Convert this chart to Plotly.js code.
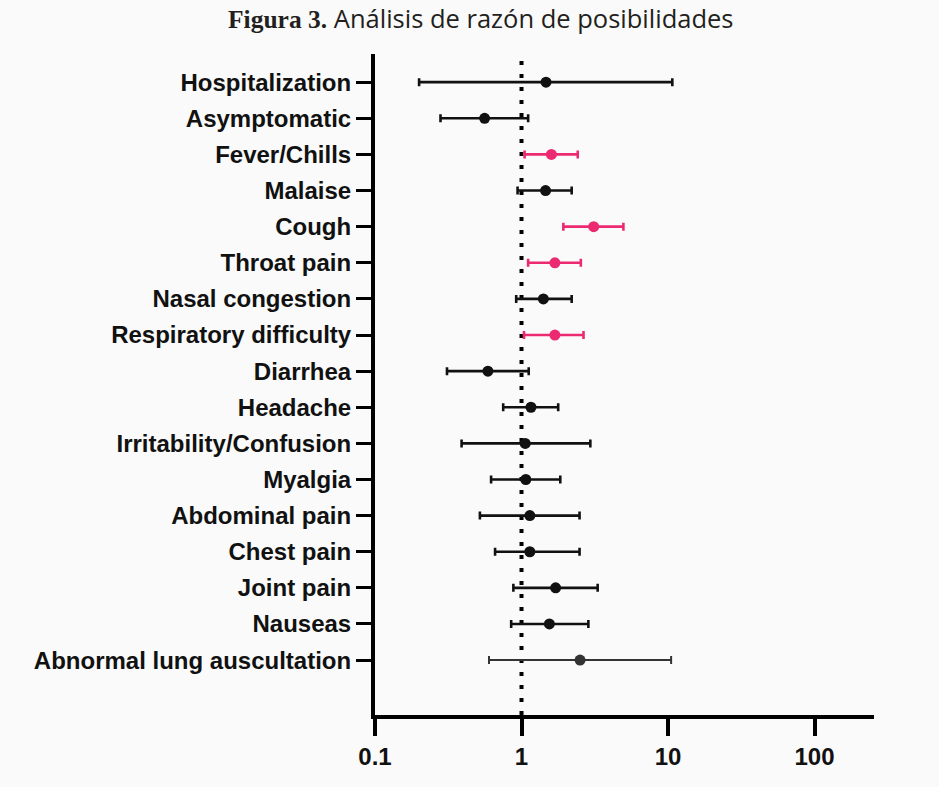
<!DOCTYPE html>
<html>
<head>
<meta charset="utf-8">
<script src="https://cdn.plot.ly/plotly-3.0.1.min.js"></script>
<style>html,body{margin:0;padding:0;background:#fafafa;}#chart{width:939px;height:787px;}</style>
</head>
<body>
<div id="chart"></div>
<script>
const categories = ["Hospitalization","Asymptomatic","Fever/Chills","Malaise","Cough","Throat pain","Nasal congestion","Respiratory difficulty","Diarrhea","Headache","Irritability/Confusion","Myalgia","Abdominal pain","Chest pain","Joint pain","Nauseas","Abnormal lung auscultation"];
const oddsRatio = [1.47,0.56,1.60,1.46,3.11,1.69,1.41,1.69,0.59,1.16,1.06,1.07,1.14,1.14,1.71,1.55,2.51];
const ciLower   = [0.20,0.28,1.05,0.94,1.93,1.11,0.92,1.04,0.31,0.75,0.39,0.62,0.52,0.66,0.88,0.85,0.60];
const ciUpper   = [10.7,1.11,2.42,2.20,4.96,2.54,2.20,2.65,1.12,1.78,2.95,1.84,2.49,2.49,3.31,2.86,10.5];
const significant = [false,false,true,false,true,true,false,true,false,false,false,false,false,false,false,false,false];
const xTickVals = [0.1,1,10,100];
const xTickText = ["0.1","1","10","100"];

const n = categories.length;
const yPos = categories.map((_, i) => n - 1 - i);

function makeTrace(filterFn, color, lineW) {
  const idx = categories.map((_, i) => i).filter(filterFn);
  return {
    type: 'scatter', mode: 'markers',
    x: idx.map(i => oddsRatio[i]),
    y: idx.map(i => yPos[i]),
    error_x: {
      type: 'data', symmetric: false,
      array: idx.map(i => ciUpper[i] - oddsRatio[i]),
      arrayminus: idx.map(i => oddsRatio[i] - ciLower[i]),
      color: color, thickness: lineW, width: 4
    },
    marker: {color: color, size: 11},
    hoverinfo: 'x+y', showlegend: false
  };
}

const traces = [
  makeTrace(i => !significant[i] && i !== n - 1, '#111111', 2.6),
  makeTrace(i => i === n - 1, '#333333', 2),
  makeTrace(i => significant[i], '#ec2a72', 2.6)
];

const labelFont = {family: 'Liberation Sans, Arial, sans-serif', size: 24, color: '#111', weight: 'bold'};

const layout = {
  width: 939, height: 787,
  paper_bgcolor: '#fafafa', plot_bgcolor: '#fafafa',
  margin: {l: 375, r: 65, t: 54, b: 72},
  title: {
    text: '<span style="font-family:\'Liberation Serif\', serif;font-weight:bold">Figura 3.</span> <span style="font-family:\'Open Sans\', sans-serif">Análisis de razón de posibilidades</span>',
    font: {size: 25.5, color: '#231f20'},
    x: 0.512, xref: 'container', xanchor: 'center',
    y: 1 - 19/787, yref: 'container', yanchor: 'middle'
  },
  xaxis: {
    type: 'log', range: [-1, 2.406],
    tickvals: xTickVals, ticktext: xTickText,
    showgrid: false, zeroline: false,
    showline: true, linewidth: 4, linecolor: '#000',
    ticks: 'outside', ticklen: 17, tickwidth: 4, tickcolor: '#000',
    tickfont: labelFont,
    fixedrange: true
  },
  yaxis: {
    range: [-1.52, 16.78],
    tickvals: yPos, ticktext: categories,
    showgrid: false, zeroline: false,
    showline: true, linewidth: 4, linecolor: '#000',
    ticks: 'outside', ticklen: 15, tickwidth: 3, tickcolor: '#000',
    tickfont: labelFont,
    fixedrange: true
  },
  shapes: [{
    type: 'line', xref: 'x', yref: 'paper',
    x0: 1, x1: 1, y0: 0, y1: 1,
    line: {color: '#000', width: 4, dash: '4px,9px'},
    layer: 'below'
  }]
};

Plotly.newPlot('chart', traces, layout, {displayModeBar: false, staticPlot: true});
</script>
</body>
</html>
